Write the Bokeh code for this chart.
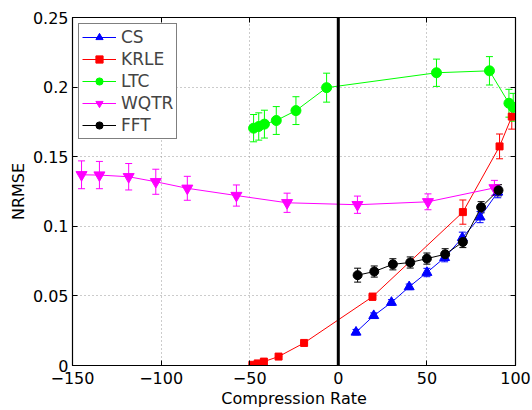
from bokeh.plotting import figure
from bokeh.models import (ColumnDataSource, Whisker, TeeHead, Span, LinearAxis,
                          FixedTicker, CustomJSTickFormatter)
from bokeh.embed import file_html
from bokeh.resources import INLINE

# ---- data ----
cs_x = [10, 20, 30, 40, 50, 60, 70, 80, 90]
cs_y = [0.0239, 0.0358, 0.0453, 0.0565, 0.0668, 0.0775, 0.0918, 0.1066, 0.1245]
cs_err = [0.002, 0.002, 0.002, 0.002, 0.003, 0.003, 0.004, 0.004, 0.004]

krle_x = [-48.5, -45.5, -42, -33.7, -19.3, 19.3, 70.3, 91, 97.9]
krle_y = [0.0005, 0.0015, 0.0028, 0.0064, 0.0162, 0.0494, 0.1102, 0.1574, 0.1788]
krle_err = [0.0, 0.0, 0.0, 0.0, 0.0, 0.0025, 0.0087, 0.0089, 0.009]

ltc_x = [-47.8, -44.9, -41.7, -35, -23.9, -6.6, 55.4, 85.3, 96.3, 98.7]
ltc_y = [0.1705, 0.1717, 0.1734, 0.176, 0.1831, 0.1996, 0.2103, 0.2117, 0.1884, 0.1855]
ltc_err = [0.0098, 0.0098, 0.01, 0.01, 0.01, 0.0104, 0.0098, 0.0102, 0.01, 0.01]

wqtr_x = [-144.9, -134.8, -118.3, -103, -85.2, -57.5, -28.9, 10.8, 50.6, 88.1]
wqtr_y = [0.137, 0.1368, 0.1356, 0.132, 0.1273, 0.1221, 0.1169, 0.1155, 0.1176, 0.1276]
wqtr_err = [0.01, 0.0098, 0.0095, 0.009, 0.0086, 0.0076, 0.0069, 0.0062, 0.0057, 0.0054]

fft_x = [10.9, 20.3, 30.8, 40.6, 50, 60.3, 70.3, 80.6, 90.4]
fft_y = [0.0649, 0.0675, 0.0727, 0.074, 0.0768, 0.0799, 0.0887, 0.1137, 0.1259]
fft_err = [0.005, 0.004, 0.004, 0.004, 0.004, 0.004, 0.004, 0.004, 0.004]

x_ticks = [-150, -100, -50, 0, 50, 100]
y_ticks = [0, 0.05, 0.1, 0.15, 0.2, 0.25]

FONT = "DejaVu Sans"

p = figure(width=532, height=410, x_range=(-150, 100), y_range=(0, 0.25),
           output_backend="svg", toolbar_location=None,
           min_border_left=72, min_border_right=17, min_border_top=17,
           min_border_bottom=43)
p.background_fill_color = "white"
p.border_fill_color = "white"
p.outline_line_color = "black"
p.outline_line_width = 1.2

xfmt = CustomJSTickFormatter(code="return tick < 0 ? '\u2212' + Math.abs(tick) : tick.toString();")
yfmt = CustomJSTickFormatter(code="return Number(tick.toFixed(2)).toString();")

xb = p.below[0]
yl = p.left[0]
xb.ticker = FixedTicker(ticks=x_ticks)
xb.formatter = xfmt
yl.ticker = FixedTicker(ticks=y_ticks)
yl.formatter = yfmt

xt = LinearAxis(ticker=FixedTicker(ticks=x_ticks), major_label_text_font_size="1px",
                major_label_text_color=None, major_label_standoff=0)
yr = LinearAxis(ticker=FixedTicker(ticks=y_ticks), major_label_text_font_size="1px",
                major_label_text_color=None, major_label_standoff=0)
p.add_layout(xt, "above")
p.add_layout(yr, "right")

for ax in (xb, yl, xt, yr):
    ax.major_tick_in = 5
    ax.major_tick_out = 0
    ax.minor_tick_line_color = None
    ax.axis_line_color = "black"
    ax.major_tick_line_color = "black"
    ax.major_label_text_font = FONT

for ax in (xb, yl):
    ax.major_label_text_color = "black"
    ax.major_label_text_font_size = "16px"
    ax.axis_label_text_font = FONT
    ax.axis_label_text_font_size = "16px"
    ax.axis_label_text_font_style = "normal"
    ax.axis_label_text_color = "black"
    ax.axis_label_standoff = 2

xb.major_label_standoff = 6
yl.major_label_standoff = 4
xb.axis_label = "Compression Rate"
yl.axis_label = "NRMSE"

p.xgrid.ticker = FixedTicker(ticks=x_ticks)
p.ygrid.ticker = FixedTicker(ticks=y_ticks)
p.grid.grid_line_color = "#999999"
p.grid.grid_line_dash = "1 3"
p.grid.grid_line_width = 1

series = [
    ("CS", cs_x, cs_y, cs_err, "#0000FF", "triangle", 10),
    ("KRLE", krle_x, krle_y, krle_err, "#FF0000", "square", 7),
    ("LTC", ltc_x, ltc_y, ltc_err, "#00FF00", "circle", 10),
    ("WQTR", wqtr_x, wqtr_y, wqtr_err, "#FF00FF", "inverted_triangle", 11),
    ("FFT", fft_x, fft_y, fft_err, "#000000", "circle", 9),
]

for name, xs, ys, es, col, mk, sz in series:
    src = ColumnDataSource(dict(x=xs, y=ys,
                                upper=[a + b for a, b in zip(ys, es)],
                                lower=[a - b for a, b in zip(ys, es)]))
    p.line("x", "y", source=src, line_color=col, line_width=1, legend_label=name)
    w = Whisker(base="x", upper="upper", lower="lower", source=src, dimension="height",
                line_color=col, line_width=1,
                upper_head=TeeHead(size=7, line_color=col, line_width=1),
                lower_head=TeeHead(size=7, line_color=col, line_width=1))
    p.add_layout(w)
    p.scatter("x", "y", source=src, marker=mk, size=sz, fill_color=col,
              line_color=col, legend_label=name)

p.add_layout(Span(location=0, dimension="height", line_color="black", line_width=3))

lg = p.legend[0]
lg.location = "top_left"
lg.margin = 6
lg.padding = 3
lg.spacing = 2
lg.label_height = 18
lg.glyph_height = 18
lg.glyph_width = 34
lg.label_standoff = 5
lg.label_text_font = FONT
lg.label_text_font_size = "17px"
lg.border_line_color = "black"
lg.border_line_width = 1
lg.background_fill_color = "white"
lg.background_fill_alpha = 1.0

open("out.html", "w").write(file_html(p, INLINE))
